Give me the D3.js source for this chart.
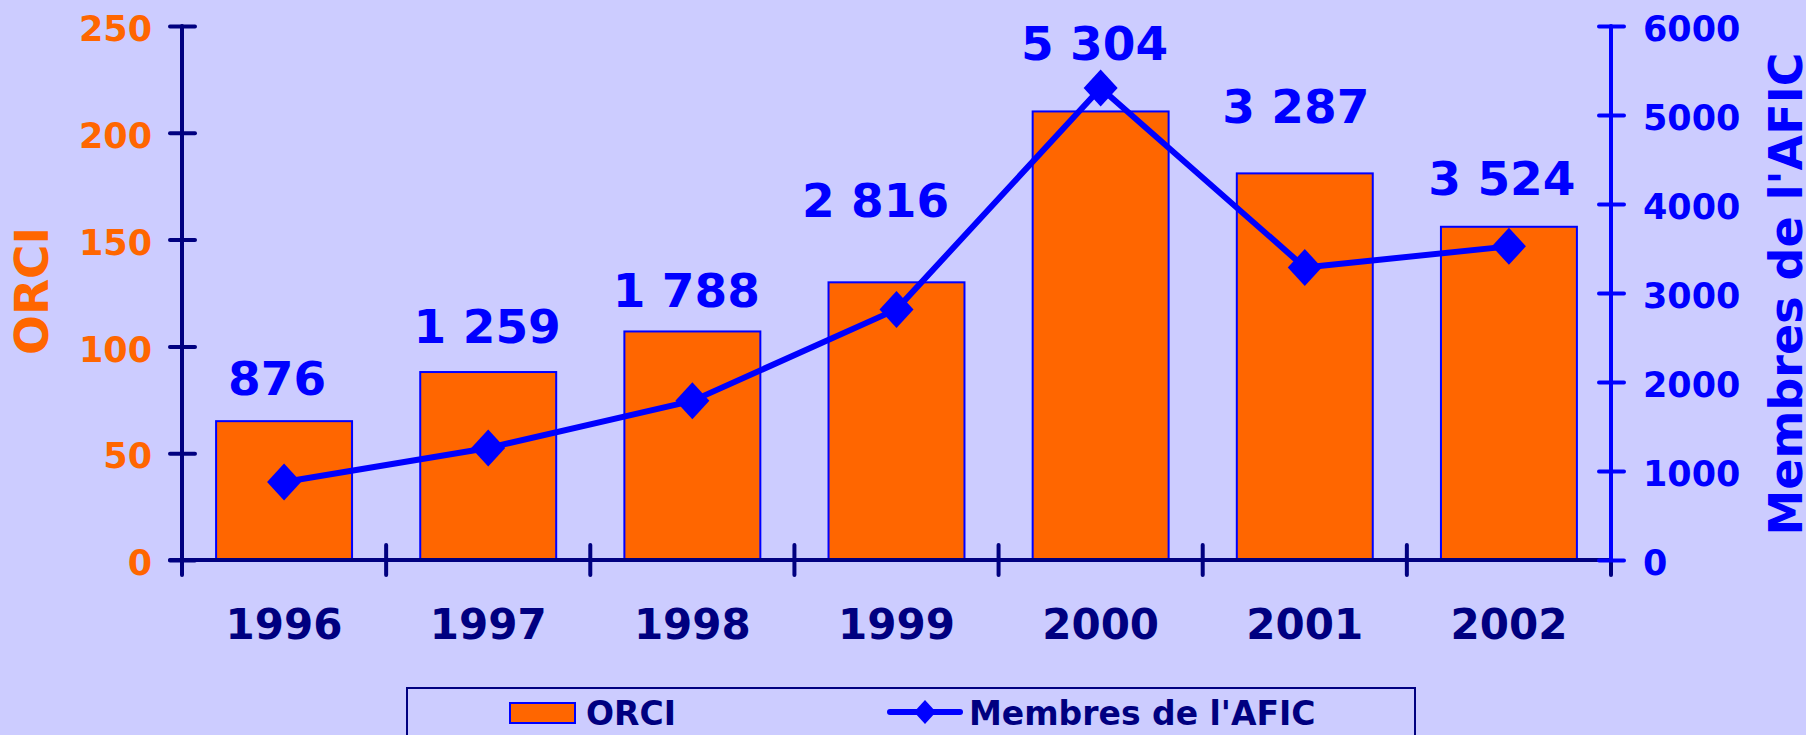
<!DOCTYPE html>
<html>
<head>
<meta charset="utf-8">
<script src="https://cdn.jsdelivr.net/npm/d3@7"></script>
<style>
  html, body { margin: 0; padding: 0; background: #ccccff; }
  svg { display: block; font-family: "DejaVu Sans", Verdana, sans-serif; font-weight: bold; }
</style>
</head>
<body>
<svg id="chart" width="1806" height="735"></svg>
<script>
// Data
const years = ["1996", "1997", "1998", "1999", "2000", "2001", "2002"];
const orci = [65, 88, 107, 130, 210, 181, 156];
const membres = [876, 1259, 1788, 2816, 5304, 3287, 3524];
const leftTicks = [0, 50, 100, 150, 200, 250];
const rightTicks = [0, 1000, 2000, 3000, 4000, 5000, 6000];

// hand-placed data labels (pixel nudge from the marker), as in the original
const labelNudge = [[-7, -87], [-1, -105], [-6, -94], [-21, -92], [-6, -28], [-9, -144], [-7, -51]];

const navy = "#000080", blue = "#0000ff", orange = "#ff6600";
const svg = d3.select("#chart");

const plot = { left: 182, right: 1611, top: 26, bottom: 560 };

const x = d3.scaleBand()
    .domain(years)
    .range([plot.left, plot.right])
    .paddingInner(0.334)
    .paddingOuter(0.167);

const yLeft = d3.scaleLinear().domain([0, 250]).range([plot.bottom, plot.top]);
const yRight = d3.scaleLinear().domain([0, 6000]).range([plot.bottom, plot.top]);

const fmt = v => d3.format(",")(v).replace(/,/g, " ");

// Bars
svg.append("g").selectAll("rect")
    .data(orci)
    .join("rect")
    .attr("x", (d, i) => x(years[i]))
    .attr("y", d => yLeft(d))
    .attr("width", x.bandwidth())
    .attr("height", d => yLeft(0) - yLeft(d))
    .attr("fill", orange)
    .attr("stroke", blue)
    .attr("stroke-width", 2);

// Left axis
const gLeft = svg.append("g")
    .attr("transform", `translate(${plot.left},0)`)
    .call(d3.axisLeft(yLeft).tickValues(leftTicks).tickSize(12).tickPadding(18));
gLeft.attr("font-family", null).attr("font-size", null);
gLeft.select(".domain").remove();
gLeft.selectAll(".tick line").attr("x1", 13).attr("x2", -12)
    .attr("stroke", navy).attr("stroke-width", 4).attr("stroke-linecap", "round");
gLeft.selectAll(".tick text")
    .attr("fill", orange).attr("font-size", 35).attr("font-weight", "bold")
    .attr("dy", "0.42em").attr("x", -30);
gLeft.append("line")
    .attr("y1", plot.top).attr("y2", plot.bottom + 15)
    .attr("stroke", navy).attr("stroke-width", 4).attr("stroke-linecap", "round");

// X axis: ticks sit on category boundaries
const bounds = d3.range(years.length + 1).map(i => plot.left + i * x.step());
const gX = svg.append("g");
gX.append("line")
    .attr("x1", plot.left - 12).attr("x2", plot.right)
    .attr("y1", plot.bottom).attr("y2", plot.bottom)
    .attr("stroke", navy).attr("stroke-width", 4).attr("stroke-linecap", "round");
gX.selectAll("line.tk")
    .data(bounds.slice(1))
    .join("line")
    .attr("class", "tk")
    .attr("x1", d => d).attr("x2", d => d)
    .attr("y1", (d, i) => i === years.length - 1 ? plot.bottom : plot.bottom - 15)
    .attr("y2", plot.bottom + 15)
    .attr("stroke", navy).attr("stroke-width", 4).attr("stroke-linecap", "round");
gX.selectAll("text")
    .data(years)
    .join("text")
    .attr("x", d => x(d) + x.bandwidth() / 2)
    .attr("y", 639)
    .attr("text-anchor", "middle")
    .attr("font-size", 42)
    .attr("fill", navy)
    .text(d => d);

// Right axis
const gRight = svg.append("g")
    .attr("transform", `translate(${plot.right},0)`)
    .call(d3.axisRight(yRight).tickValues(rightTicks).tickSize(12).tickPadding(20).tickFormat(d3.format("d")));
gRight.attr("font-family", null).attr("font-size", null);
gRight.select(".domain").remove();
gRight.append("line")
    .attr("y1", plot.top).attr("y2", plot.bottom)
    .attr("stroke", blue).attr("stroke-width", 4).attr("stroke-linecap", "round");
gRight.selectAll(".tick line").attr("x1", -12).attr("x2", 13)
    .attr("stroke", blue).attr("stroke-width", 4).attr("stroke-linecap", "round");
gRight.selectAll(".tick text")
    .attr("fill", blue).attr("font-size", 35).attr("font-weight", "bold")
    .attr("dy", "0.42em").attr("x", 32);

// Axis titles
svg.append("text")
    .attr("transform", `translate(48,291) rotate(-90)`)
    .attr("text-anchor", "middle")
    .attr("font-size", 47)
    .attr("fill", orange)
    .text("ORCI");
svg.append("text")
    .attr("transform", `translate(1802,294) rotate(-90)`)
    .attr("text-anchor", "middle")
    .attr("font-size", 46)
    .attr("fill", blue)
    .text("Membres de l'AFIC");

// Line + diamonds
const cx = (d, i) => x(years[i]) + x.bandwidth() / 2;
const line = d3.line().x(cx).y(d => yRight(d));
svg.append("path")
    .datum(membres)
    .attr("d", line)
    .attr("fill", "none")
    .attr("stroke", blue)
    .attr("stroke-width", 6)
    .attr("stroke-linejoin", "round");

const diamond = (w, h) => `M0,${-h}L${w},0L0,${h}L${-w},0Z`;
svg.append("g").selectAll("path")
    .data(membres)
    .join("path")
    .attr("transform", (d, i) => `translate(${cx(d, i)},${yRight(d)})`)
    .attr("d", diamond(17, 18.5))
    .attr("fill", blue);

// Data labels
svg.append("g").selectAll("text")
    .data(membres)
    .join("text")
    .attr("x", (d, i) => cx(d, i) + labelNudge[i][0])
    .attr("y", (d, i) => yRight(d) + labelNudge[i][1])
    .attr("text-anchor", "middle")
    .attr("font-size", 47)
    .attr("fill", blue)
    .text(d => fmt(d));

// Legend
const lg = svg.append("g");
lg.append("rect")
    .attr("x", 407).attr("y", 688)
    .attr("width", 1008).attr("height", 80)
    .attr("fill", "none")
    .attr("stroke", navy)
    .attr("stroke-width", 2);
lg.append("rect")
    .attr("x", 510).attr("y", 703)
    .attr("width", 65).attr("height", 20)
    .attr("fill", orange)
    .attr("stroke", blue)
    .attr("stroke-width", 2);
lg.append("text")
    .attr("x", 586).attr("y", 725)
    .attr("font-size", 33)
    .attr("fill", navy)
    .text("ORCI");
lg.append("line")
    .attr("x1", 890).attr("x2", 960)
    .attr("y1", 712).attr("y2", 712)
    .attr("stroke", blue).attr("stroke-width", 6).attr("stroke-linecap", "round");
lg.append("path")
    .attr("transform", "translate(925,712)")
    .attr("d", diamond(11, 12))
    .attr("fill", blue);
lg.append("text")
    .attr("x", 969).attr("y", 725)
    .attr("font-size", 33)
    .attr("fill", navy)
    .text("Membres de l'AFIC");
</script>
</body>
</html>
